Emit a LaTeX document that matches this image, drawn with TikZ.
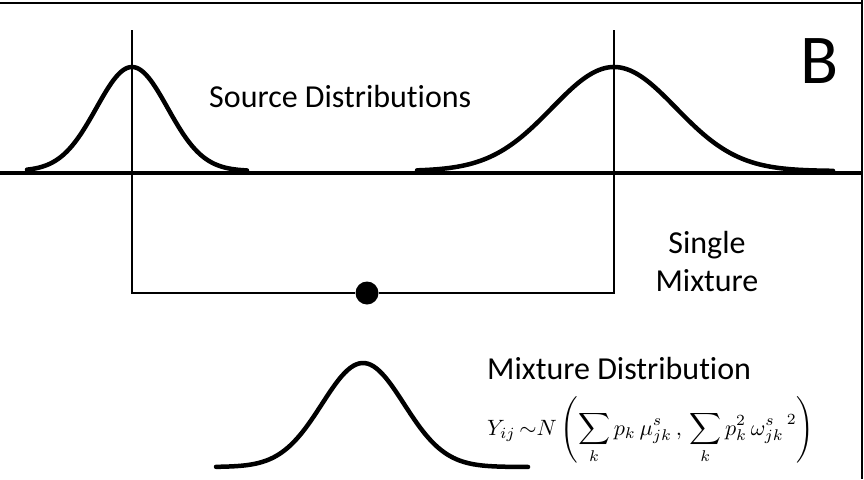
\documentclass[tikz,border=0pt]{standalone}
\usepackage{fontspec}
\setmainfont{Carlito}[Ligatures=NoCommon]
\usepackage{amsmath}
\usepackage{graphicx}
\tikzset{
  frameline/.style={line width=2.5pt},
  axisline/.style={line width=4.5pt},
  bell/.style={line width=4.5pt, line cap=round, line join=round},
  guide/.style={line width=2pt},
  lbl/.style={inner sep=0pt, font=\fontsize{32}{38}\selectfont},
  bigletter/.style={inner sep=0pt, font=\fontsize{70}{80}\selectfont},
  dotmark/.style={circle, fill=black, inner sep=0pt, minimum size=23pt},
  formula/.style={inner sep=0pt}
}
\begin{document}
\begin{tikzpicture}[x=1pt,y=-1pt]
\useasboundingbox (0,0) rectangle (864,479);
% frame (top and right)
\draw[frameline] (0,3) -- (862,3);
\draw[frameline] (862,0) -- (862,479);
% base axis
\draw[axisline] (0,173) -- (862,173);
% source distributions
\draw[bell] plot[domain=-105:115, samples=90, smooth] ({132+\x},{171-104*exp(-0.5*(\x/35.6)*(\x/35.6))});
\draw[bell] plot[domain=-197:219, samples=120, smooth] ({614+\x},{171-104*exp(-0.5*(\x/62)*(\x/62))});
% mixture distribution
\draw[bell] plot[domain=-147:165, samples=110, smooth] ({363+\x},{467-104*exp(-0.5*(\x/41)*(\x/41))});
% guides
\coordinate (ltop) at (132,30);
\coordinate (lbot) at (132,293);
\coordinate (rtop) at (614,30);
\coordinate (rbot) at (614,293);
\node[dotmark] (dot) at (367,293) {};
\draw[guide] (ltop) -- (lbot) -- (dot) -- (rbot) -- (rtop);
% labels
\node[lbl, anchor=base west] (src) at (209,107) {Source Distributions};
\node[bigletter, anchor=base] (B) at (820,83) {B};
\node[lbl, anchor=base] (single) at (707,253) {Single};
\node[lbl, anchor=base] (mixture) at (707,291) {Mixture};
\node[lbl, anchor=base west] (mixdist) at (487,379) {Mixture Distribution};
\node[formula, anchor=base west] (eq) at (487,435)
  {\resizebox{327pt}{!}{$\displaystyle Y_{ij}\,{\sim}N\left(\sum_k p_k\,\mu^s_{jk}\,,\,\sum_k p_k^2\,{\omega^s_{jk}}^{\,2}\right)$}};
\end{tikzpicture}
\end{document}
